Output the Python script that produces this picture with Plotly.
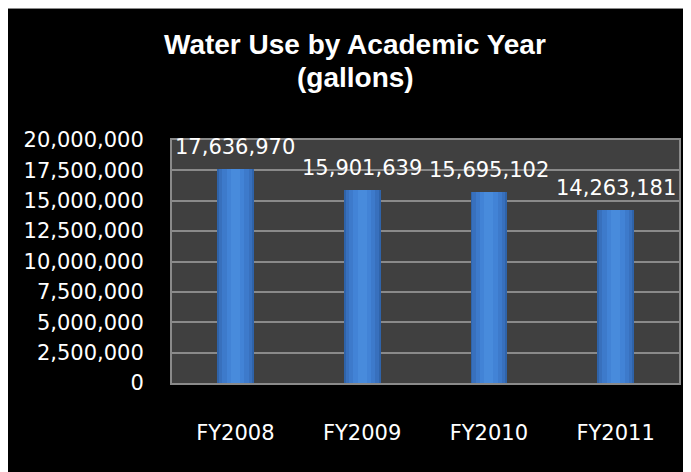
import plotly.graph_objects as go

categories = ["FY2008", "FY2009", "FY2010", "FY2011"]
water_use = [17636970, 15901639, 15695102, 14263181]
title_lines = ["Water Use by Academic Year", "(gallons)"]
y_ticks = [0, 2500000, 5000000, 7500000, 10000000, 12500000, 15000000, 17500000, 20000000]

W, H = 691, 472
L, R, T, B = 164, 20, 132, 97
PW, PH = W - L - R, H - T - B

def px_x(px):
    return (px - L) / PW

def px_y(py):
    return (H - B - py) / PH

fig = go.Figure()

# layered bars to imitate the cylindrical gradient
layers = [(0.29, "#2f63a9"), (0.26, "#3870bd"), (0.21, "#3d7acb"), (0.14, "#4283d6"), (0.07, "#488bdc")]
for w, c in layers:
    fig.add_trace(go.Bar(x=categories, y=water_use, width=w, marker=dict(color=c, line=dict(width=0)),
                         hoverinfo="skip", showlegend=False))

annotations = []
for cat, v in zip(categories, water_use):
    annotations.append(dict(x=cat, y=v, xref="x", yref="y", text=f"{v:,}", showarrow=False,
                            yanchor="bottom", xanchor="center", yshift=8,
                            font=dict(family="DejaVu Sans", size=21, color="white")))

annotations.append(dict(x=px_x(347), y=px_y(37), xref="paper", yref="paper", text="<b>%s</b>" % title_lines[0],
                        showarrow=False, xanchor="center", yanchor="middle",
                        font=dict(family="Liberation Sans", size=28, color="white")))
annotations.append(dict(x=px_x(347), y=px_y(69), xref="paper", yref="paper", text="<b>%s</b>" % title_lines[1],
                        showarrow=False, xanchor="center", yanchor="middle",
                        font=dict(family="Liberation Sans", size=28, color="white")))

shapes = [
    dict(type="line", xref="paper", yref="paper", x0=px_x(0), x1=px_x(W), y0=px_y(0.5), y1=px_y(0.5),
         line=dict(color="#8a8a8a", width=1), layer="above"),
]

fig.update_layout(
    width=W, height=H,
    margin=dict(l=L, r=R, t=T, b=B),
    paper_bgcolor="black",
    plot_bgcolor="#404040",
    barmode="overlay",
    bargap=0,
    showlegend=False,
    annotations=annotations,
    shapes=shapes,
    font=dict(family="DejaVu Sans", size=21, color="white"),
)
fig.update_xaxes(
    type="category", range=[-0.5, 3.5], showgrid=False,
    showline=True, mirror=True, linecolor="#8a8a8a", linewidth=2,
    ticks="", ticklabelstandoff=30,
    tickfont=dict(family="DejaVu Sans", size=21, color="white"),
)
fig.update_yaxes(
    range=[0, 20000000], tickvals=y_ticks, tickformat=",d",
    showgrid=True, gridcolor="#8a8a8a", gridwidth=1.5,
    zeroline=False, showline=True, mirror=True, linecolor="#8a8a8a", linewidth=2,
    ticks="", ticklabelstandoff=22,
    tickfont=dict(family="DejaVu Sans", size=21, color="white"),
)

fig.write_html("out.html")
